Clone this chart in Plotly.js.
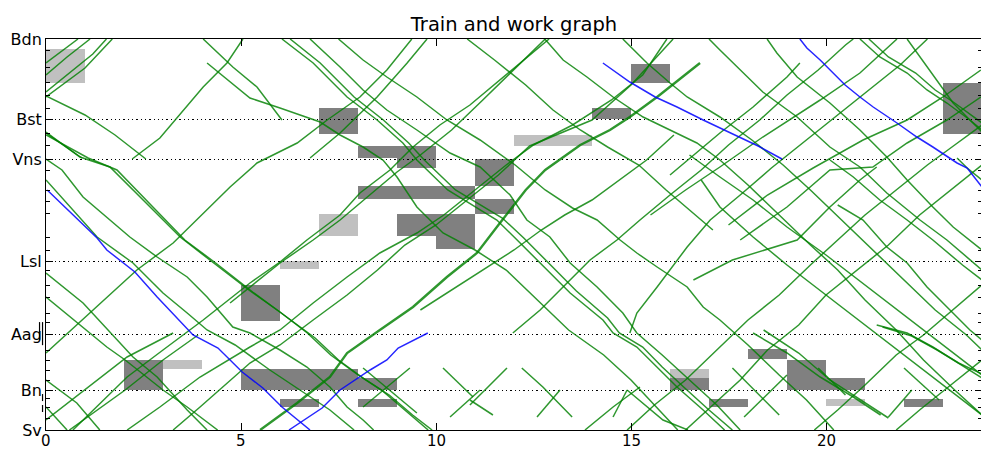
<!DOCTYPE html>
<html>
<head>
<meta charset="utf-8">
<script src="https://cdn.plot.ly/plotly-3.0.1.min.js"></script>
<style>html,body{margin:0;padding:0;overflow:hidden;background:#fff}</style>
</head>
<body>
<div id="chart" style="width:982px;height:451px"></div>
<script>
// Stations along the line (km from Sv) and intermediate stops
const stationNames = ['Sv', 'Bn', 'Aag', 'Lsl', 'Vns', 'Bst', 'Bdn'];
const stationKm = [0, 40, 96, 169, 271, 311, 391];
const stopKm = [12, 23, 32, 50, 60, 70, 80, 108, 117, 133, 145, 160, 180, 193, 217, 229, 240, 260, 285, 297, 322, 335, 348, 363, 380];
const hourTicks = [0, 5, 10, 15, 20];

// Work possessions: [start h, end h, from km, to km]
const workBlocks = [
  [7, 8, 296, 322], [8, 10, 272, 284], [9, 10, 262, 272], [8, 11, 231, 244],
  [9, 11, 194, 216], [10, 11, 181, 194], [11, 12, 244, 271], [11, 12, 216, 231],
  [14, 15, 311, 322], [15, 16, 347, 366], [23, 24, 296, 347], [5, 6, 109, 145],
  [2, 3, 40, 70], [5, 8, 40, 61], [8, 9, 40, 52], [6, 7, 23, 31], [8, 9, 23, 31],
  [18, 19, 71, 81], [19, 20, 40, 70], [20, 21, 40, 52], [22, 23, 23, 31],
  [17, 18, 23, 31], [16, 17, 40, 52]
];
// Planned (tentative) possessions
const plannedBlocks = [
  [0, 1, 347, 381], [7, 8, 194, 216], [6, 7, 161, 169], [3, 4, 61, 70],
  [12, 14, 284, 295], [20, 21, 24, 31], [16, 17, 52, 61]
];

// Special train runs: [hour, km] points
const specialRuns = [
  [[0.03,240],[1.31,192],[1.56,180],[2.28,158],[2.85,133],[3.77,95],[4.41,82],[5.03,58],[5.56,42],[6.05,23],[6.77,0]],
  [[6.23,0],[7.08,22],[7.54,40],[8.31,60],[8.74,70],[9.03,82],[9.79,97]],
  [[14.28,367],[14.97,348],[15.62,333],[16.18,323],[16.85,310],[17.28,302],[18.26,284],[18.87,271]],
  [[19.33,391],[19.51,382],[19.85,370],[20.49,345],[20.87,333],[21.21,323],[21.82,307],[22.33,293],[22.74,283],[23.36,267],[23.62,262],[24,243]]
];

// Regular train runs: [hour, km] points
const trainRuns = [
  [[0,367],[0.82,391]],
  [[0,355],[0.54,373],[1.13,391]],
  [[0,338],[1.2,376],[1.55,391]],
  [[0,333],[1.0,362],[1.7,391]],
  [[0,334],[1.0,315],[1.77,295],[2.56,271]],
  [[2.21,271],[2.92,292],[4.03,343],[4.64,367],[5.05,391]],
  [[4.03,391],[4.79,363],[5.41,343],[6.05,310]],
  [[0,298],[0.87,273],[1.64,263],[3.44,193],[4.2,170],[5.2,140],[6.0,118],[6.7,97],[7.3,75],[8.0,55],[8.6,40],[9.2,20],[9.8,0]],
  [[0,295],[1.08,272],[1.82,260],[3.56,190],[4.35,167],[5.3,138],[6.1,115],[6.9,92],[7.5,70],[8.2,50],[8.8,35],[9.4,15],[9.9,0]],
  [[0,297],[0.92,272]],
  [[0,271],[0.41,260],[0.95,233],[2.15,193],[2.85,173],[3.62,153],[4.13,133],[4.79,103],[5.23,97],[6.0,80],[6.69,63],[7.28,43],[7.72,23],[8.13,10],[8.4,0]],
  [[0,250],[1.31,193],[2.23,167],[3.0,137],[3.62,117],[4.13,100],[4.85,85],[5.74,60],[6.51,40],[7.28,20],[7.9,0]],
  [[0,157],[0.95,127],[2.23,73],[2.85,53],[3.62,20],[4.13,0]],
  [[0,133],[1.56,83],[2.03,70],[3.0,40],[3.62,23],[4.4,0]],
  [[0,50],[0.79,27],[1.38,0]],
  [[0,23],[0.54,0]],
  [[0,77],[2.33,160],[3.26,187],[3.87,210],[4.72,243],[5.41,267],[6.44,287],[7.21,310],[8.05,333],[8.74,360],[9.38,391]],
  [[0,10],[2.08,73],[3.26,97]],
  [[0.69,0],[2.08,53],[3.0,80],[4.03,110],[5.23,147],[6.0,168],[6.69,190],[7.54,215],[8.05,237],[8.82,260],[9.41,283],[10.1,305],[10.87,325],[11.64,350],[12.41,375],[12.9,391]],
  [[2.08,0],[2.92,23],[3.95,53],[5.23,83],[6.0,100],[6.85,127],[7.72,153],[8.56,177],[9.51,197],[10.2,215],[11.0,240],[11.8,265],[12.5,285],[13.5,305],[14.5,330],[15.3,355],[15.92,391]],
  [[3.26,0],[3.95,23],[5.23,67],[6.0,85],[6.85,110],[7.72,135],[8.5,160],[9.2,185],[10.0,205],[10.8,230],[11.6,255],[12.4,284],[14.0,310],[15.0,345],[16.08,391]],
  [[0.6,0],[2.03,40],[3.0,70],[3.9,95]],
  [[4.72,127],[5.23,143],[6.0,167],[6.85,190],[7.54,210],[8.3,235],[9.0,258],[9.6,275],[10.4,300],[11.2,330],[12.0,360],[12.8,391]],
  [[6.77,272],[7.54,297],[8.49,333],[9.26,367],[9.77,391]],
  [[4.13,367],[5.23,332],[6.0,322],[7.03,308],[7.54,295],[8.13,283],[8.64,270],[9.0,253],[9.51,223],[10.18,197],[11.0,180],[11.8,160],[12.6,130],[13.4,100],[14.3,75],[15.0,50],[15.6,25],[16.2,0]],
  [[6.05,391],[6.85,367],[7.72,333],[8.49,310],[9.15,287],[9.51,270],[10.3,240],[11.56,210],[12.08,190],[12.85,160],[13.44,137],[14.28,110],[14.54,97],[15.15,83],[15.67,63],[16.18,43],[16.85,20],[17.4,0]],
  [[6.26,391],[7.03,367],[7.9,333],[8.65,310],[9.3,287],[9.7,270],[10.5,240],[11.7,212],[12.25,192],[13.0,162],[13.6,139],[14.4,112],[14.7,97],[15.3,83],[15.8,63],[16.35,43],[17.0,20],[17.6,0]],
  [[6.77,391],[7.54,363],[8.13,340],[8.74,320],[9.51,300],[10.36,277],[11.13,263],[11.9,235],[12.33,210],[12.92,193],[13.44,167],[14.13,143],[14.79,117],[15.15,97],[15.8,75],[16.5,50],[17.2,25],[17.8,0]],
  [[7.5,391],[8.13,370],[8.74,353],[9.51,333],[10.28,310],[11.13,290],[12.03,265],[12.8,240],[13.5,222],[14.13,210],[14.72,190],[15.15,177],[15.67,163],[16.44,143],[16.85,123],[17.28,110],[18.0,85],[18.8,55],[19.5,30],[20.2,0]],
  [[12.79,391],[13.26,370],[13.87,353],[14.54,333],[15.31,313],[16.0,300],[16.69,287],[17.28,270],[18.0,245],[18.8,215],[19.6,185],[20.3,160],[21.0,130],[21.8,100],[22.5,70],[23.3,40],[24,15]],
  [[14.79,391],[15.41,367],[16.0,347],[16.44,333],[17.28,313],[18.1,290],[18.9,265],[19.6,240],[20.4,210],[21.2,180],[22.0,150],[22.8,120],[23.6,95],[24,80]],
  [[11.97,97],[12.67,120],[13.36,147],[13.95,170],[14.64,190],[15.23,210],[16.0,235],[16.8,260],[17.5,285],[18.3,310],[19.0,335],[19.8,360],[20.5,385],[20.7,391]],
  [[14.97,97],[15.15,117],[15.67,143],[16.44,183],[17.03,210],[17.8,235],[18.6,262],[19.5,290],[20.3,315],[21.1,340],[21.9,365],[22.6,391]],
  [[14.9,0],[15.6,25],[16.4,50],[17.2,80],[18.0,110],[18.8,135],[19.6,165],[20.3,190],[21.0,215],[21.8,240],[22.6,265],[23.3,285],[24,305]],
  [[16.4,0],[17.1,25],[17.8,50],[18.5,80],[19.3,105],[20.0,135],[20.8,160],[21.6,185],[22.4,215],[23.2,240],[24,265]],
  [[17.0,391],[17.28,380],[18.38,338],[19.26,313],[20.1,283],[20.87,263],[21.56,237],[22.41,210],[23.1,190],[24,160]],
  [[18.49,391],[18.74,377],[19.26,353],[20.1,327],[20.87,300],[21.56,273],[22.08,250],[22.74,223],[23.26,203],[24,180]],
  [[20.87,391],[21.38,373],[22.08,357],[22.59,340],[23.1,327],[23.69,310],[24,300]],
  [[21.1,391],[21.6,373],[22.3,357],[22.8,340],[23.3,327],[23.9,310],[24,307]],
  [[22.08,391],[22.41,373],[22.85,350],[23.26,327],[23.69,310],[24,298]],
  [[16.0,255],[17.28,297],[18.13,323],[19.0,353],[19.33,367]],
  [[15.5,215],[16.4,240],[17.28,263],[18.38,293],[19.85,330],[20.87,357],[21.82,391]],
  [[17.5,205],[18.5,235],[19.67,262],[20.95,290],[22.08,310],[23.0,333],[23.97,360]],
  [[17.8,190],[19.0,223],[20.1,260],[21.2,263],[22.08,287],[23.1,310],[23.97,333]],
  [[16.6,150],[17.6,170],[19.26,190],[20.1,223],[20.87,250],[21.3,263]],
  [[20.1,270],[20.7,253],[21.38,230],[22.08,210],[22.74,190],[23.5,165],[24,150]],
  [[23.36,272],[23.62,262],[24,250]],
  [[16.5,275],[17.28,253],[18.13,230],[19.0,203],[20,175],[21,145],[22,115],[23,85],[24,55]],
  [[20.3,225],[20.95,210],[21.56,183],[22.08,167],[22.59,143],[23.1,123],[23.69,100],[24,90]],
  [[16.8,250],[17.28,223],[18.13,193],[19,165],[20,135],[21,105],[22,75],[23,45],[24,15]],
  [[18.13,97],[19.0,77],[19.85,53],[20.7,33],[21.4,15]],
  [[18.4,100],[19.3,77],[20.1,50],[20.9,30],[21.6,12]],
  [[21.3,105],[22.08,97],[22.74,83],[23.26,70],[24,52]],
  [[21.45,103],[22.2,94],[22.85,80],[23.4,67],[24,56]],
  [[19.7,0],[20.3,20],[21.0,45],[21.8,75],[22.5,95],[23.4,125],[24,145]],
  [[21.8,0],[22.4,20],[23.2,45],[24,70]],
  [[8.13,62],[9.51,17]], [[9.33,62],[8.13,23]],
  [[10.18,62],[10.95,33]], [[10.36,13],[11.13,40]],
  [[10.87,30],[11.46,15]], [[11.82,62],[10.87,25]],
  [[12.2,62],[12.74,43],[13.49,13]], [[12.59,13],[13.18,40]],
  [[13.82,0],[14.54,23],[15.23,43]], [[14.54,13],[14.9,40]],
  [[14.9,40],[15.82,10],[16.46,0]],
  [[17.6,62],[18.3,35],[18.8,15]], [[17.9,13],[18.6,40],[19.0,55]],
  [[19.8,62],[20.5,35]], [[21.6,13],[22.2,40]], [[22.0,62],[22.9,30]],
  [[10.8,391],[11.5,370],[12.3,345],[13.0,320],[13.7,300],[14.4,283],[15.2,265],[15.9,240],[16.5,220],[17.1,200]],
  [[9.6,120],[10.4,140],[11.2,160],[12.0,180],[12.7,200],[13.3,215],[14.0,230],[14.7,250],[15.4,270],[16.1,295]]
];
const boldRun = [[5.49,0],[6.44,27],[7.28,53],[7.72,77],[8.56,100],[9.41,123],[10.28,153],[11.05,177],[11.6,205],[12.3,240],[12.8,260],[13.7,285],[14.46,300],[14.97,313],[15.67,333],[16.33,353],[16.77,367]];

const traces = [];
function addRun(pts, color, width) {
  traces.push({
    type: 'scatter', mode: 'lines',
    x: pts.map(p => p[0]), y: pts.map(p => p[1]),
    line: {color: color, width: width},
    hoverinfo: 'skip', showlegend: false
  });
}
const green = 'rgba(0,128,0,0.82)';
const blue = 'rgba(0,0,255,0.85)';
trainRuns.forEach(r => addRun(r, green, 1.5));
addRun(boldRun, green, 2.4);
specialRuns.forEach(r => addRun(r, blue, 1.5));

const shapes = [];
workBlocks.forEach(b => shapes.push({
  type: 'rect', xref: 'x', yref: 'y', x0: b[0], x1: b[1], y0: b[2], y1: b[3],
  fillcolor: 'rgb(128,128,128)', line: {width: 0}, layer: 'below'
}));
plannedBlocks.forEach(b => shapes.push({
  type: 'rect', xref: 'x', yref: 'y', x0: b[0], x1: b[1], y0: b[2], y1: b[3],
  fillcolor: 'rgb(192,192,192)', line: {width: 0}, layer: 'below'
}));
// small marker strokes beside the Aag and Bn labels
[[-0.0069, 0.230, 0.276], [-0.0037, 0.217, 0.276], [-0.0037, 0.074, 0.092], [-0.0037, 0.046, 0.064]].forEach(m => shapes.push({
  type: 'line', xref: 'paper', yref: 'paper', x0: m[0], x1: m[0], y0: m[1], y1: m[2],
  line: {color: '#000', width: 1.2}
}));

const font = {family: 'DejaVu Sans, sans-serif', size: 16, color: '#000'};
const xFont = {family: 'DejaVu Sans, sans-serif', size: 15, color: '#000'};

// hour labels under the axis
const annotations = hourTicks.map(h => ({
  text: String(h), x: h, xref: 'x', y: 0, yref: 'paper',
  yanchor: 'top', xanchor: 'center', yshift: -1, showarrow: false,
  font: xFont, borderpad: 0
}));

const layout = {
  width: 982, height: 451,
  margin: {l: 46, r: 0, t: 39, b: 21, pad: 0},
  paper_bgcolor: '#fff', plot_bgcolor: '#fff',
  font: font,
  title: {text: 'Train and work graph', font: {family: 'DejaVu Sans, sans-serif', size: 19.5, color: '#000'},
          x: 0.5, xref: 'paper', y: 0.947, yref: 'container', yanchor: 'middle'},
  xaxis: {
    range: [0, 24], tickvals: hourTicks, showticklabels: false,
    ticks: 'inside', ticklen: 7, tickcolor: '#000', tickwidth: 1,
    showline: true, linecolor: '#000', linewidth: 1, mirror: 'ticks',
    showgrid: false, zeroline: false
  },
  yaxis: {
    range: [0, 391], tickvals: stationKm, ticktext: stationNames,
    ticks: 'inside', ticklen: 7, tickcolor: '#000', tickwidth: 1,
    showline: true, linecolor: '#000', linewidth: 1, mirror: 'ticks',
    showgrid: true, gridcolor: '#000', gridwidth: 1, griddash: '1.3px,3px',
    zeroline: false, tickfont: font,
    minor: {tickvals: stopKm, ticks: 'inside', ticklen: 4, tickcolor: '#000', showgrid: false}
  },
  shapes: shapes,
  annotations: annotations
};

Plotly.newPlot('chart', traces, layout, {staticPlot: true, displayModeBar: false});
</script>
</body>
</html>
